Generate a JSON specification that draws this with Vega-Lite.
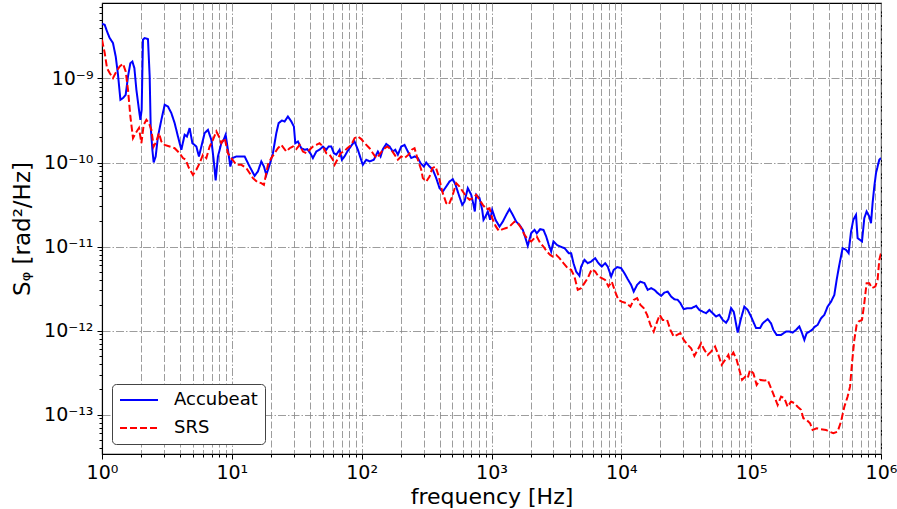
{
  "$schema": "https://vega.github.io/schema/vega-lite/v6.json",
  "width": 779,
  "height": 451,
  "autosize": "none",
  "padding": {"left": 102, "top": 3, "right": 16, "bottom": 55},
  "background": "white",
  "config": {
    "font": "DejaVu Sans",
    "view": {"stroke": "black", "strokeWidth": 1.1}
  },
  "data": {"values": [
    {"series":"Accubeat","f":1,"S":4.48e-9},
    {"series":"Accubeat","f":1.049,"S":4.36e-9},
    {"series":"Accubeat","f":1.093,"S":3.63e-9},
    {"series":"Accubeat","f":1.146,"S":3.03e-9},
    {"series":"Accubeat","f":1.215,"S":2.64e-9},
    {"series":"Accubeat","f":1.275,"S":1.83e-9},
    {"series":"Accubeat","f":1.328,"S":1.11e-9},
    {"series":"Accubeat","f":1.386,"S":5.58e-10},
    {"series":"Accubeat","f":1.451,"S":5.85e-10},
    {"series":"Accubeat","f":1.522,"S":6.40e-10},
    {"series":"Accubeat","f":1.586,"S":1.06e-9},
    {"series":"Accubeat","f":1.654,"S":1.52e-9},
    {"series":"Accubeat","f":1.714,"S":1.59e-9},
    {"series":"Accubeat","f":1.776,"S":1.33e-9},
    {"series":"Accubeat","f":1.840,"S":7.34e-10},
    {"series":"Accubeat","f":1.927,"S":4.24e-10},
    {"series":"Accubeat","f":1.975,"S":3.22e-10},
    {"series":"Accubeat","f":2.021,"S":4.24e-10},
    {"series":"Accubeat","f":2.068,"S":2.89e-9},
    {"series":"Accubeat","f":2.132,"S":3.03e-9},
    {"series":"Accubeat","f":2.260,"S":2.94e-9},
    {"series":"Accubeat","f":2.329,"S":1.06e-9},
    {"series":"Accubeat","f":2.371,"S":2.68e-10},
    {"series":"Accubeat","f":2.443,"S":1.42e-10},
    {"series":"Accubeat","f":2.500,"S":1.00e-10},
    {"series":"Accubeat","f":2.591,"S":1.18e-10},
    {"series":"Accubeat","f":2.698,"S":2.04e-10},
    {"series":"Accubeat","f":2.866,"S":3.22e-10},
    {"series":"Accubeat","f":3.039,"S":4.86e-10},
    {"series":"Accubeat","f":3.222,"S":4.64e-10},
    {"series":"Accubeat","f":3.421,"S":3.87e-10},
    {"series":"Accubeat","f":3.628,"S":2.94e-10},
    {"series":"Accubeat","f":3.846,"S":2.04e-10},
    {"series":"Accubeat","f":4.085,"S":1.42e-10},
    {"series":"Accubeat","f":4.331,"S":2.14e-10},
    {"series":"Accubeat","f":4.512,"S":2.04e-10},
    {"series":"Accubeat","f":4.732,"S":2.57e-10},
    {"series":"Accubeat","f":4.966,"S":1.70e-10},
    {"series":"Accubeat","f":5.330,"S":1.55e-10},
    {"series":"Accubeat","f":5.581,"S":1.18e-10},
    {"series":"Accubeat","f":5.824,"S":1.55e-10},
    {"series":"Accubeat","f":6.174,"S":2.24e-10},
    {"series":"Accubeat","f":6.546,"S":2.45e-10},
    {"series":"Accubeat","f":6.953,"S":1.86e-10},
    {"series":"Accubeat","f":7.244,"S":1.08e-10},
    {"series":"Accubeat","f":7.506,"S":6.11e-11},
    {"series":"Accubeat","f":7.816,"S":1.18e-10},
    {"series":"Accubeat","f":8.303,"S":1.70e-10},
    {"series":"Accubeat","f":8.648,"S":1.86e-10},
    {"series":"Accubeat","f":8.960,"S":2.14e-10},
    {"series":"Accubeat","f":9.333,"S":1.42e-10},
    {"series":"Accubeat","f":9.739,"S":8.96e-11},
    {"series":"Accubeat","f":10.09,"S":1.13e-10},
    {"series":"Accubeat","f":10.83,"S":1.18e-10},
    {"series":"Accubeat","f":12.55,"S":1.18e-10},
    {"series":"Accubeat","f":13.71,"S":8.96e-11},
    {"series":"Accubeat","f":14.98,"S":6.95e-11},
    {"series":"Accubeat","f":15.88,"S":7.82e-11},
    {"series":"Accubeat","f":16.87,"S":1.03e-10},
    {"series":"Accubeat","f":17.67,"S":8.96e-11},
    {"series":"Accubeat","f":18.43,"S":7.14e-11},
    {"series":"Accubeat","f":19.54,"S":9.39e-11},
    {"series":"Accubeat","f":20.72,"S":1.29e-10},
    {"series":"Accubeat","f":22.01,"S":2.24e-10},
    {"series":"Accubeat","f":22.93,"S":2.94e-10},
    {"series":"Accubeat","f":24.30,"S":3.16e-10},
    {"series":"Accubeat","f":25.50,"S":3.08e-10},
    {"series":"Accubeat","f":27.03,"S":3.53e-10},
    {"series":"Accubeat","f":28.71,"S":3.08e-10},
    {"series":"Accubeat","f":30.06,"S":2.68e-10},
    {"series":"Accubeat","f":30.82,"S":1.70e-10},
    {"series":"Accubeat","f":32.28,"S":1.78e-10},
    {"series":"Accubeat","f":34.28,"S":1.48e-10},
    {"series":"Accubeat","f":36.34,"S":1.42e-10},
    {"series":"Accubeat","f":38.13,"S":1.44e-10},
    {"series":"Accubeat","f":40.44,"S":1.27e-10},
    {"series":"Accubeat","f":42.12,"S":1.13e-10},
    {"series":"Accubeat","f":44.73,"S":1.35e-10},
    {"series":"Accubeat","f":47.42,"S":1.42e-10},
    {"series":"Accubeat","f":50.27,"S":1.55e-10},
    {"series":"Accubeat","f":53.40,"S":1.42e-10},
    {"series":"Accubeat","f":55.62,"S":1.55e-10},
    {"series":"Accubeat","f":58.34,"S":1.55e-10},
    {"series":"Accubeat","f":61.09,"S":1.29e-10},
    {"series":"Accubeat","f":63.75,"S":1.24e-10},
    {"series":"Accubeat","f":67.58,"S":1.42e-10},
    {"series":"Accubeat","f":70.40,"S":1.08e-10},
    {"series":"Accubeat","f":73.85,"S":1.18e-10},
    {"series":"Accubeat","f":77.46,"S":1.35e-10},
    {"series":"Accubeat","f":80.70,"S":1.48e-10},
    {"series":"Accubeat","f":84.06,"S":1.62e-10},
    {"series":"Accubeat","f":88.17,"S":1.78e-10},
    {"series":"Accubeat","f":93.48,"S":1.42e-10},
    {"series":"Accubeat","f":98.06,"S":1.13e-10},
    {"series":"Accubeat","f":102.1,"S":9.39e-11},
    {"series":"Accubeat","f":108.5,"S":1.08e-10},
    {"series":"Accubeat","f":115.0,"S":1.03e-10},
    {"series":"Accubeat","f":124.1,"S":1.08e-10},
    {"series":"Accubeat","f":133.3,"S":1.35e-10},
    {"series":"Accubeat","f":139.8,"S":1.18e-10},
    {"series":"Accubeat","f":145.6,"S":1.44e-10},
    {"series":"Accubeat","f":154.7,"S":1.66e-10},
    {"series":"Accubeat","f":164.0,"S":1.55e-10},
    {"series":"Accubeat","f":173.9,"S":1.35e-10},
    {"series":"Accubeat","f":181.4,"S":1.42e-10},
    {"series":"Accubeat","f":190.0,"S":1.24e-10},
    {"series":"Accubeat","f":201.7,"S":1.55e-10},
    {"series":"Accubeat","f":213.9,"S":1.62e-10},
    {"series":"Accubeat","f":226.8,"S":1.35e-10},
    {"series":"Accubeat","f":240.9,"S":1.13e-10},
    {"series":"Accubeat","f":255.4,"S":1.18e-10},
    {"series":"Accubeat","f":270.8,"S":1.13e-10},
    {"series":"Accubeat","f":284.0,"S":9.84e-11},
    {"series":"Accubeat","f":301.2,"S":8.96e-11},
    {"series":"Accubeat","f":314.3,"S":1.00e-10},
    {"series":"Accubeat","f":333.2,"S":8.96e-11},
    {"series":"Accubeat","f":353.3,"S":8.19e-11},
    {"series":"Accubeat","f":375.2,"S":6.52e-11},
    {"series":"Accubeat","f":397.8,"S":4.96e-11},
    {"series":"Accubeat","f":421.8,"S":4.52e-11},
    {"series":"Accubeat","f":448.0,"S":5.18e-11},
    {"series":"Accubeat","f":475.0,"S":5.94e-11},
    {"series":"Accubeat","f":503.6,"S":6.34e-11},
    {"series":"Accubeat","f":528.3,"S":5.43e-11},
    {"series":"Accubeat","f":560.1,"S":4.13e-11},
    {"series":"Accubeat","f":594.9,"S":3.14e-11},
    {"series":"Accubeat","f":619.6,"S":3.43e-11},
    {"series":"Accubeat","f":657.1,"S":4.96e-11},
    {"series":"Accubeat","f":697.9,"S":4.13e-11},
    {"series":"Accubeat","f":726.9,"S":3.14e-11},
    {"series":"Accubeat","f":743.8,"S":2.61e-11},
    {"series":"Accubeat","f":762.6,"S":4.13e-11},
    {"series":"Accubeat","f":808.5,"S":3.77e-11},
    {"series":"Accubeat","f":848.1,"S":2.73e-11},
    {"series":"Accubeat","f":867.8,"S":2.08e-11},
    {"series":"Accubeat","f":899.1,"S":2.28e-11},
    {"series":"Accubeat","f":936.5,"S":2.61e-11},
    {"series":"Accubeat","f":977.2,"S":2.08e-11},
    {"series":"Accubeat","f":1012,"S":2.73e-11},
    {"series":"Accubeat","f":1074,"S":2.08e-11},
    {"series":"Accubeat","f":1152,"S":1.73e-11},
    {"series":"Accubeat","f":1222,"S":1.98e-11},
    {"series":"Accubeat","f":1298,"S":2.38e-11},
    {"series":"Accubeat","f":1376,"S":2.79e-11},
    {"series":"Accubeat","f":1459,"S":2.38e-11},
    {"series":"Accubeat","f":1549,"S":1.98e-11},
    {"series":"Accubeat","f":1643,"S":1.81e-11},
    {"series":"Accubeat","f":1742,"S":1.58e-11},
    {"series":"Accubeat","f":1827,"S":1.26e-11},
    {"series":"Accubeat","f":1903,"S":1.02e-11},
    {"series":"Accubeat","f":2021,"S":1.44e-11},
    {"series":"Accubeat","f":2143,"S":1.58e-11},
    {"series":"Accubeat","f":2232,"S":1.44e-11},
    {"series":"Accubeat","f":2371,"S":1.61e-11},
    {"series":"Accubeat","f":2513,"S":1.58e-11},
    {"series":"Accubeat","f":2637,"S":1.32e-11},
    {"series":"Accubeat","f":2761,"S":1.05e-11},
    {"series":"Accubeat","f":2881,"S":8.72e-12},
    {"series":"Accubeat","f":3001,"S":1.15e-11},
    {"series":"Accubeat","f":3183,"S":1.05e-11},
    {"series":"Accubeat","f":3380,"S":1.00e-11},
    {"series":"Accubeat","f":3648,"S":9.57e-12},
    {"series":"Accubeat","f":3937,"S":8.35e-12},
    {"series":"Accubeat","f":4108,"S":8.35e-12},
    {"series":"Accubeat","f":4279,"S":6.34e-12},
    {"series":"Accubeat","f":4487,"S":5.04e-12},
    {"series":"Accubeat","f":4757,"S":4.48e-12},
    {"series":"Accubeat","f":4903,"S":5.78e-12},
    {"series":"Accubeat","f":5198,"S":6.95e-12},
    {"series":"Accubeat","f":5511,"S":6.34e-12},
    {"series":"Accubeat","f":5853,"S":6.63e-12},
    {"series":"Accubeat","f":6285,"S":7.28e-12},
    {"series":"Accubeat","f":6664,"S":6.34e-12},
    {"series":"Accubeat","f":7066,"S":5.78e-12},
    {"series":"Accubeat","f":7506,"S":6.34e-12},
    {"series":"Accubeat","f":7859,"S":5.78e-12},
    {"series":"Accubeat","f":8347,"S":4.40e-12},
    {"series":"Accubeat","f":8740,"S":5.28e-12},
    {"series":"Accubeat","f":9284,"S":5.69e-12},
    {"series":"Accubeat","f":9965,"S":5.53e-12},
    {"series":"Accubeat","f":10566,"S":4.82e-12},
    {"series":"Accubeat","f":11202,"S":4.09e-12},
    {"series":"Accubeat","f":11896,"S":3.50e-12},
    {"series":"Accubeat","f":12459,"S":2.91e-12},
    {"series":"Accubeat","f":13230,"S":3.50e-12},
    {"series":"Accubeat","f":14028,"S":3.83e-12},
    {"series":"Accubeat","f":15058,"S":3.67e-12},
    {"series":"Accubeat","f":15965,"S":3.05e-12},
    {"series":"Accubeat","f":16958,"S":3.20e-12},
    {"series":"Accubeat","f":17978,"S":3.05e-12},
    {"series":"Accubeat","f":19060,"S":2.79e-12},
    {"series":"Accubeat","f":20249,"S":2.59e-12},
    {"series":"Accubeat","f":21469,"S":2.83e-12},
    {"series":"Accubeat","f":22761,"S":2.91e-12},
    {"series":"Accubeat","f":24180,"S":2.54e-12},
    {"series":"Accubeat","f":25635,"S":2.36e-12},
    {"series":"Accubeat","f":27179,"S":2.32e-12},
    {"series":"Accubeat","f":28511,"S":2.12e-12},
    {"series":"Accubeat","f":30228,"S":1.80e-12},
    {"series":"Accubeat","f":32454,"S":1.85e-12},
    {"series":"Accubeat","f":34834,"S":1.85e-12},
    {"series":"Accubeat","f":37649,"S":1.97e-12},
    {"series":"Accubeat","f":39922,"S":1.76e-12},
    {"series":"Accubeat","f":42326,"S":1.68e-12},
    {"series":"Accubeat","f":44958,"S":1.61e-12},
    {"series":"Accubeat","f":47665,"S":1.76e-12},
    {"series":"Accubeat","f":50536,"S":1.61e-12},
    {"series":"Accubeat","f":53680,"S":1.47e-12},
    {"series":"Accubeat","f":56913,"S":1.54e-12},
    {"series":"Accubeat","f":60339,"S":1.34e-12},
    {"series":"Accubeat","f":64094,"S":1.24e-12},
    {"series":"Accubeat","f":66760,"S":1.37e-12},
    {"series":"Accubeat","f":70035,"S":1.85e-12},
    {"series":"Accubeat","f":73338,"S":1.68e-12},
    {"series":"Accubeat","f":74255,"S":1.54e-12},
    {"series":"Accubeat","f":78724,"S":9.47e-13},
    {"series":"Accubeat","f":83604,"S":1.40e-12},
    {"series":"Accubeat","f":88641,"S":1.93e-12},
    {"series":"Accubeat","f":93998,"S":1.76e-12},
    {"series":"Accubeat","f":99823,"S":1.47e-12},
    {"series":"Accubeat","f":109054,"S":1.07e-12},
    {"series":"Accubeat","f":117095,"S":1.07e-12},
    {"series":"Accubeat","f":122612,"S":1.22e-12},
    {"series":"Accubeat","f":133968,"S":1.37e-12},
    {"series":"Accubeat","f":142285,"S":1.22e-12},
    {"series":"Accubeat","f":148206,"S":1.02e-12},
    {"series":"Accubeat","f":157156,"S":8.89e-13},
    {"series":"Accubeat","f":169932,"S":8.89e-13},
    {"series":"Accubeat","f":185695,"S":9.73e-13},
    {"series":"Accubeat","f":196878,"S":9.73e-13},
    {"series":"Accubeat","f":208736,"S":9.47e-13},
    {"series":"Accubeat","f":221700,"S":1.02e-12},
    {"series":"Accubeat","f":235048,"S":1.12e-12},
    {"series":"Accubeat","f":246537,"S":9.31e-13},
    {"series":"Accubeat","f":256794,"S":7.75e-13},
    {"series":"Accubeat","f":267519,"S":9.31e-13},
    {"series":"Accubeat","f":280543,"S":9.73e-13},
    {"series":"Accubeat","f":294290,"S":1.02e-12},
    {"series":"Accubeat","f":306530,"S":1.10e-12},
    {"series":"Accubeat","f":325015,"S":1.17e-12},
    {"series":"Accubeat","f":345195,"S":1.40e-12},
    {"series":"Accubeat","f":366005,"S":1.54e-12},
    {"series":"Accubeat","f":388062,"S":1.93e-12},
    {"series":"Accubeat","f":412285,"S":2.21e-12},
    {"series":"Accubeat","f":437135,"S":2.66e-12},
    {"series":"Accubeat","f":455312,"S":4.01e-12},
    {"series":"Accubeat","f":477530,"S":6.05e-12},
    {"series":"Accubeat","f":506278,"S":9.57e-12},
    {"series":"Accubeat","f":537613,"S":9.14e-12},
    {"series":"Accubeat","f":563127,"S":8.35e-12},
    {"series":"Accubeat","f":587489,"S":1.51e-11},
    {"series":"Accubeat","f":611900,"S":2.08e-11},
    {"series":"Accubeat","f":641900,"S":2.38e-11},
    {"series":"Accubeat","f":660500,"S":1.26e-11},
    {"series":"Accubeat","f":689100,"S":1.20e-11},
    {"series":"Accubeat","f":714000,"S":1.15e-11},
    {"series":"Accubeat","f":743700,"S":2.18e-11},
    {"series":"Accubeat","f":774700,"S":2.61e-11},
    {"series":"Accubeat","f":812500,"S":2.28e-11},
    {"series":"Accubeat","f":837400,"S":1.90e-11},
    {"series":"Accubeat","f":861500,"S":3.29e-11},
    {"series":"Accubeat","f":888000,"S":5.18e-11},
    {"series":"Accubeat","f":915200,"S":7.48e-11},
    {"series":"Accubeat","f":941500,"S":8.96e-11},
    {"series":"Accubeat","f":970300,"S":1.08e-10},
    {"series":"Accubeat","f":1000000,"S":1.13e-10},
    {"series":"SRS","f":1,"S":2.89e-9},
    {"series":"SRS","f":1.049,"S":2.01e-9},
    {"series":"SRS","f":1.093,"S":1.33e-9},
    {"series":"SRS","f":1.146,"S":1.16e-9},
    {"series":"SRS","f":1.215,"S":1.01e-9},
    {"series":"SRS","f":1.291,"S":1.21e-9},
    {"series":"SRS","f":1.369,"S":1.39e-9},
    {"series":"SRS","f":1.451,"S":1.50e-9},
    {"series":"SRS","f":1.522,"S":1.21e-9},
    {"series":"SRS","f":1.586,"S":7.34e-10},
    {"series":"SRS","f":1.654,"S":3.53e-10},
    {"series":"SRS","f":1.733,"S":1.95e-10},
    {"series":"SRS","f":1.817,"S":2.24e-10},
    {"series":"SRS","f":1.927,"S":2.57e-10},
    {"series":"SRS","f":2.011,"S":1.70e-10},
    {"series":"SRS","f":2.094,"S":2.81e-10},
    {"series":"SRS","f":2.197,"S":3.22e-10},
    {"series":"SRS","f":2.300,"S":2.94e-10},
    {"series":"SRS","f":2.401,"S":2.45e-10},
    {"series":"SRS","f":2.500,"S":1.55e-10},
    {"series":"SRS","f":2.623,"S":1.78e-10},
    {"series":"SRS","f":2.746,"S":2.24e-10},
    {"series":"SRS","f":2.866,"S":1.78e-10},
    {"series":"SRS","f":3.039,"S":1.62e-10},
    {"series":"SRS","f":3.320,"S":1.55e-10},
    {"series":"SRS","f":3.628,"S":1.48e-10},
    {"series":"SRS","f":3.964,"S":1.29e-10},
    {"series":"SRS","f":4.203,"S":1.13e-10},
    {"series":"SRS","f":4.409,"S":1.08e-10},
    {"series":"SRS","f":4.675,"S":8.58e-11},
    {"series":"SRS","f":5.018,"S":7.14e-11},
    {"series":"SRS","f":5.330,"S":8.19e-11},
    {"series":"SRS","f":5.651,"S":9.84e-11},
    {"series":"SRS","f":5.991,"S":1.24e-10},
    {"series":"SRS","f":6.363,"S":1.13e-10},
    {"series":"SRS","f":6.746,"S":1.55e-10},
    {"series":"SRS","f":7.152,"S":1.86e-10},
    {"series":"SRS","f":7.597,"S":2.34e-10},
    {"series":"SRS","f":7.956,"S":2.04e-10},
    {"series":"SRS","f":8.303,"S":1.70e-10},
    {"series":"SRS","f":8.803,"S":1.95e-10},
    {"series":"SRS","f":9.333,"S":1.29e-10},
    {"series":"SRS","f":9.912,"S":1.13e-10},
    {"series":"SRS","f":10.83,"S":9.39e-11},
    {"series":"SRS","f":11.83,"S":9.39e-11},
    {"series":"SRS","f":12.93,"S":8.58e-11},
    {"series":"SRS","f":14.54,"S":6.52e-11},
    {"series":"SRS","f":15.88,"S":5.78e-11},
    {"series":"SRS","f":16.87,"S":5.69e-11},
    {"series":"SRS","f":17.67,"S":5.43e-11},
    {"series":"SRS","f":18.96,"S":9.39e-11},
    {"series":"SRS","f":20.14,"S":1.13e-10},
    {"series":"SRS","f":21.36,"S":1.29e-10},
    {"series":"SRS","f":22.64,"S":1.48e-10},
    {"series":"SRS","f":24.05,"S":1.62e-10},
    {"series":"SRS","f":26.28,"S":1.35e-10},
    {"series":"SRS","f":27.86,"S":1.48e-10},
    {"series":"SRS","f":29.54,"S":1.55e-10},
    {"series":"SRS","f":31.37,"S":1.44e-10},
    {"series":"SRS","f":33.26,"S":1.62e-10},
    {"series":"SRS","f":35.27,"S":1.35e-10},
    {"series":"SRS","f":37.46,"S":1.29e-10},
    {"series":"SRS","f":39.71,"S":1.42e-10},
    {"series":"SRS","f":42.12,"S":1.55e-10},
    {"series":"SRS","f":44.73,"S":1.62e-10},
    {"series":"SRS","f":47.42,"S":1.70e-10},
    {"series":"SRS","f":50.27,"S":1.55e-10},
    {"series":"SRS","f":53.40,"S":1.29e-10},
    {"series":"SRS","f":56.61,"S":1.24e-10},
    {"series":"SRS","f":60.02,"S":1.08e-10},
    {"series":"SRS","f":61.86,"S":9.39e-11},
    {"series":"SRS","f":64.88,"S":1.08e-10},
    {"series":"SRS","f":68.81,"S":1.29e-10},
    {"series":"SRS","f":72.95,"S":1.35e-10},
    {"series":"SRS","f":77.46,"S":1.48e-10},
    {"series":"SRS","f":83.16,"S":1.62e-10},
    {"series":"SRS","f":88.17,"S":1.95e-10},
    {"series":"SRS","f":93.48,"S":2.04e-10},
    {"series":"SRS","f":99.29,"S":1.90e-10},
    {"series":"SRS","f":105.3,"S":1.70e-10},
    {"series":"SRS","f":115.0,"S":1.48e-10},
    {"series":"SRS","f":122.0,"S":1.29e-10},
    {"series":"SRS","f":129.5,"S":1.13e-10},
    {"series":"SRS","f":137.3,"S":1.24e-10},
    {"series":"SRS","f":145.6,"S":1.42e-10},
    {"series":"SRS","f":157.4,"S":1.55e-10},
    {"series":"SRS","f":169.0,"S":1.42e-10},
    {"series":"SRS","f":179.2,"S":1.24e-10},
    {"series":"SRS","f":190.0,"S":1.08e-10},
    {"series":"SRS","f":201.7,"S":1.18e-10},
    {"series":"SRS","f":213.9,"S":1.13e-10},
    {"series":"SRS","f":229.6,"S":1.24e-10},
    {"series":"SRS","f":243.4,"S":1.42e-10},
    {"series":"SRS","f":255.4,"S":1.48e-10},
    {"series":"SRS","f":270.8,"S":1.08e-10},
    {"series":"SRS","f":287.6,"S":8.19e-11},
    {"series":"SRS","f":295.9,"S":6.52e-11},
    {"series":"SRS","f":314.3,"S":5.94e-11},
    {"series":"SRS","f":333.2,"S":6.81e-11},
    {"series":"SRS","f":349.6,"S":8.58e-11},
    {"series":"SRS","f":370.7,"S":8.96e-11},
    {"series":"SRS","f":392.9,"S":6.81e-11},
    {"series":"SRS","f":417.4,"S":4.52e-11},
    {"series":"SRS","f":448.0,"S":3.29e-11},
    {"series":"SRS","f":469.1,"S":3.14e-11},
    {"series":"SRS","f":498.5,"S":3.94e-11},
    {"series":"SRS","f":535.0,"S":5.69e-11},
    {"series":"SRS","f":567.2,"S":5.18e-11},
    {"series":"SRS","f":601.3,"S":4.52e-11},
    {"series":"SRS","f":638.6,"S":3.94e-11},
    {"series":"SRS","f":677.1,"S":3.60e-11},
    {"series":"SRS","f":717.8,"S":3.77e-11},
    {"series":"SRS","f":762.6,"S":4.13e-11},
    {"series":"SRS","f":808.5,"S":3.60e-11},
    {"series":"SRS","f":857.0,"S":3.14e-11},
    {"series":"SRS","f":910.3,"S":2.79e-11},
    {"series":"SRS","f":965.2,"S":2.86e-11},
    {"series":"SRS","f":1012,"S":2.18e-11},
    {"series":"SRS","f":1074,"S":1.76e-11},
    {"series":"SRS","f":1138,"S":1.54e-11},
    {"series":"SRS","f":1222,"S":1.61e-11},
    {"series":"SRS","f":1298,"S":1.66e-11},
    {"series":"SRS","f":1376,"S":1.73e-11},
    {"series":"SRS","f":1503,"S":1.98e-11},
    {"series":"SRS","f":1594,"S":1.90e-11},
    {"series":"SRS","f":1693,"S":1.66e-11},
    {"series":"SRS","f":1795,"S":1.38e-11},
    {"series":"SRS","f":1903,"S":1.22e-11},
    {"series":"SRS","f":2021,"S":1.15e-11},
    {"series":"SRS","f":2143,"S":1.26e-11},
    {"series":"SRS","f":2232,"S":1.32e-11},
    {"series":"SRS","f":2371,"S":1.10e-11},
    {"series":"SRS","f":2513,"S":1.00e-11},
    {"series":"SRS","f":2665,"S":8.72e-12},
    {"series":"SRS","f":2831,"S":7.96e-12},
    {"series":"SRS","f":2965,"S":7.60e-12},
    {"series":"SRS","f":3148,"S":7.96e-12},
    {"series":"SRS","f":3338,"S":7.28e-12},
    {"series":"SRS","f":3583,"S":6.34e-12},
    {"series":"SRS","f":3868,"S":5.53e-12},
    {"series":"SRS","f":4108,"S":5.28e-12},
    {"series":"SRS","f":4355,"S":4.40e-12},
    {"series":"SRS","f":4617,"S":3.05e-12},
    {"series":"SRS","f":4903,"S":3.20e-12},
    {"series":"SRS","f":5198,"S":3.67e-12},
    {"series":"SRS","f":5511,"S":4.21e-12},
    {"series":"SRS","f":5916,"S":5.38e-12},
    {"series":"SRS","f":6285,"S":5.04e-12},
    {"series":"SRS","f":6664,"S":4.40e-12},
    {"series":"SRS","f":7066,"S":4.21e-12},
    {"series":"SRS","f":7506,"S":4.01e-12},
    {"series":"SRS","f":7958,"S":3.34e-12},
    {"series":"SRS","f":8436,"S":3.83e-12},
    {"series":"SRS","f":8962,"S":2.91e-12},
    {"series":"SRS","f":9500,"S":2.32e-12},
    {"series":"SRS","f":10072,"S":2.21e-12},
    {"series":"SRS","f":10889,"S":2.12e-12},
    {"series":"SRS","f":11749,"S":1.93e-12},
    {"series":"SRS","f":12459,"S":2.32e-12},
    {"series":"SRS","f":13230,"S":2.43e-12},
    {"series":"SRS","f":14028,"S":2.02e-12},
    {"series":"SRS","f":14873,"S":1.85e-12},
    {"series":"SRS","f":15800,"S":1.54e-12},
    {"series":"SRS","f":16749,"S":1.17e-12},
    {"series":"SRS","f":17760,"S":9.73e-13},
    {"series":"SRS","f":18863,"S":1.28e-12},
    {"series":"SRS","f":19752,"S":1.54e-12},
    {"series":"SRS","f":20832,"S":1.34e-12},
    {"series":"SRS","f":22516,"S":1.34e-12},
    {"series":"SRS","f":23878,"S":1.02e-12},
    {"series":"SRS","f":25318,"S":8.48e-13},
    {"series":"SRS","f":26894,"S":8.89e-13},
    {"series":"SRS","f":28511,"S":9.31e-13},
    {"series":"SRS","f":30228,"S":7.75e-13},
    {"series":"SRS","f":32454,"S":6.76e-13},
    {"series":"SRS","f":34460,"S":6.17e-13},
    {"series":"SRS","f":36533,"S":5.00e-13},
    {"series":"SRS","f":38731,"S":5.89e-13},
    {"series":"SRS","f":41151,"S":7.08e-13},
    {"series":"SRS","f":43627,"S":5.89e-13},
    {"series":"SRS","f":46254,"S":5.14e-13},
    {"series":"SRS","f":49125,"S":5.62e-13},
    {"series":"SRS","f":52723,"S":6.45e-13},
    {"series":"SRS","f":55898,"S":5.14e-13},
    {"series":"SRS","f":59264,"S":3.91e-13},
    {"series":"SRS","f":62951,"S":4.48e-13},
    {"series":"SRS","f":66760,"S":5.14e-13},
    {"series":"SRS","f":67955,"S":4.69e-13},
    {"series":"SRS","f":72944,"S":5.47e-13},
    {"series":"SRS","f":77335,"S":4.48e-13},
    {"series":"SRS","f":81138,"S":3.40e-13},
    {"series":"SRS","f":85114,"S":2.59e-13},
    {"series":"SRS","f":90238,"S":2.83e-13},
    {"series":"SRS","f":93998,"S":2.71e-13},
    {"series":"SRS","f":98059,"S":3.40e-13},
    {"series":"SRS","f":103965,"S":3.11e-13},
    {"series":"SRS","f":110228,"S":2.26e-13},
    {"series":"SRS","f":117095,"S":2.59e-13},
    {"series":"SRS","f":126352,"S":2.54e-13},
    {"series":"SRS","f":133968,"S":2.59e-13},
    {"series":"SRS","f":142285,"S":2.06e-13},
    {"series":"SRS","f":150894,"S":1.64e-13},
    {"series":"SRS","f":159956,"S":1.30e-13},
    {"series":"SRS","f":169932,"S":1.64e-13},
    {"series":"SRS","f":180218,"S":1.57e-13},
    {"series":"SRS","f":191000,"S":1.24e-13},
    {"series":"SRS","f":202900,"S":1.43e-13},
    {"series":"SRS","f":215100,"S":1.37e-13},
    {"series":"SRS","f":228000,"S":1.24e-13},
    {"series":"SRS","f":242200,"S":1.14e-13},
    {"series":"SRS","f":252300,"S":9.06e-14},
    {"series":"SRS","f":267500,"S":8.65e-14},
    {"series":"SRS","f":284100,"S":7.90e-14},
    {"series":"SRS","f":297500,"S":6.58e-14},
    {"series":"SRS","f":319300,"S":6.89e-14},
    {"series":"SRS","f":345200,"S":6.70e-14},
    {"series":"SRS","f":377300,"S":6.58e-14},
    {"series":"SRS","f":399900,"S":6.28e-14},
    {"series":"SRS","f":429400,"S":6.01e-14},
    {"series":"SRS","f":463400,"S":6.28e-14},
    {"series":"SRS","f":492100,"S":8.26e-14},
    {"series":"SRS","f":521900,"S":1.24e-13},
    {"series":"SRS","f":553400,"S":1.64e-13},
    {"series":"SRS","f":577500,"S":2.15e-13},
    {"series":"SRS","f":597900,"S":4.09e-13},
    {"series":"SRS","f":623000,"S":7.75e-13},
    {"series":"SRS","f":649000,"S":1.17e-12},
    {"series":"SRS","f":672400,"S":1.28e-12},
    {"series":"SRS","f":714000,"S":1.34e-12},
    {"series":"SRS","f":743700,"S":2.12e-12},
    {"series":"SRS","f":774700,"S":3.67e-12},
    {"series":"SRS","f":812500,"S":3.67e-12},
    {"series":"SRS","f":852400,"S":3.20e-12},
    {"series":"SRS","f":903800,"S":3.34e-12},
    {"series":"SRS","f":941500,"S":4.01e-12},
    {"series":"SRS","f":970300,"S":6.95e-12},
    {"series":"SRS","f":1000000,"S":8.35e-12}
  ]},
  "mark": {"type": "line", "strokeWidth": 2, "clip": true, "interpolate": "linear"},
  "encoding": {
    "x": {
      "field": "f", "type": "quantitative",
      "scale": {"type": "log", "domain": [1, 1000000], "nice": false},
      "axis": {
        "title": "frequency [Hz]",
        "titleFontSize": 22, "titleFontWeight": "normal", "titleColor": "black", "titlePadding": 4,
        "values": [1,2,3,4,5,6,7,8,9,10,20,30,40,50,60,70,80,90,100,200,300,400,500,600,700,800,900,1000,2000,3000,4000,5000,6000,7000,8000,9000,10000,20000,30000,40000,50000,60000,70000,80000,90000,100000,200000,300000,400000,500000,600000,700000,800000,900000,1000000],
        "labelExpr": "abs(log(datum.value)/LN10 - round(log(datum.value)/LN10)) < 0.001 ? '10' + ['⁰','¹','²','³','⁴','⁵','⁶'][round(log(datum.value)/LN10)] : ''",
        "labelFontSize": 19, "labelColor": "black", "labelPadding": 4, "labelOverlap": false, "labelFlush": false,
        "domainColor": "black", "domainWidth": 1.1,
        "tickColor": "black",
        "tickSize": {"condition": {"test": "abs(log(datum.value)/LN10 - round(log(datum.value)/LN10)) < 0.001", "value": 5}, "value": 3},
        "grid": true,
        "gridColor": "#8c8c8c",
        "gridWidth": 1,
        "gridOpacity": 0.85,
        "gridDash": {"condition": {"test": "abs(log(datum.value)/LN10 - round(log(datum.value)/LN10)) < 0.001", "value": [8, 2, 1.5, 2]}, "value": [7, 2.5]}
      }
    },
    "y": {
      "field": "S", "type": "quantitative",
      "scale": {"type": "log", "domain": [3.40e-14, 7.91e-9], "nice": false},
      "axis": {
        "title": "Sᵩ [rad²/Hz]",
        "titleFontSize": 23, "titleFontWeight": "normal", "titleColor": "black", "titlePadding": 9,
        "values": [4e-14,5e-14,6e-14,7e-14,8e-14,9e-14,1e-13,2e-13,3e-13,4e-13,5e-13,6e-13,7e-13,8e-13,9e-13,1e-12,2e-12,3e-12,4e-12,5e-12,6e-12,7e-12,8e-12,9e-12,1e-11,2e-11,3e-11,4e-11,5e-11,6e-11,7e-11,8e-11,9e-11,1e-10,2e-10,3e-10,4e-10,5e-10,6e-10,7e-10,8e-10,9e-10,1e-9,2e-9,3e-9,4e-9,5e-9,6e-9,7e-9],
        "labelExpr": "abs(log(datum.value)/LN10 - round(log(datum.value)/LN10)) < 0.001 ? '10⁻' + ['','','','','','','','','','⁹','¹⁰','¹¹','¹²','¹³'][round(-log(datum.value)/LN10)] : ''",
        "labelFontSize": 19, "labelColor": "black", "labelPadding": 4, "labelOverlap": false, "labelFlush": false,
        "domainColor": "black", "domainWidth": 1.1,
        "tickColor": "black",
        "tickSize": {"condition": {"test": "abs(log(datum.value)/LN10 - round(log(datum.value)/LN10)) < 0.001", "value": 5}, "value": 3},
        "grid": true,
        "gridColor": "#8c8c8c",
        "gridWidth": 1,
        "gridOpacity": {"condition": {"test": "abs(log(datum.value)/LN10 - round(log(datum.value)/LN10)) < 0.001", "value": 0.85}, "value": 0},
        "gridDash": [8, 2, 1.5, 2]
      }
    },
    "color": {
      "field": "series", "type": "nominal",
      "scale": {"domain": ["Accubeat", "SRS"], "range": ["#0000ff", "#ff0000"]},
      "legend": {
        "title": null,
        "orient": "bottom-left",
        "offset": 10,
        "fillColor": "white",
        "strokeColor": "#444444",
        "cornerRadius": 4,
        "padding": 7,
        "symbolType": "M-1,0H3.75",
        "symbolSize": 256,
        "symbolStrokeWidth": 2,
        "labelFontSize": 18,
        "labelColor": "black",
        "labelOffset": 37,
        "rowPadding": 10
      }
    },
    "strokeDash": {
      "field": "series", "type": "nominal",
      "scale": {"domain": ["Accubeat", "SRS"], "range": [[1, 0], [7, 3]]},
      "legend": {
        "title": null,
        "orient": "bottom-left",
        "offset": 10,
        "fillColor": "white",
        "strokeColor": "#444444",
        "cornerRadius": 4,
        "padding": 7,
        "symbolType": "M-1,0H3.75",
        "symbolSize": 256,
        "symbolStrokeWidth": 2,
        "labelFontSize": 18,
        "labelColor": "black",
        "labelOffset": 37,
        "rowPadding": 10
      }
    }
  }
}
